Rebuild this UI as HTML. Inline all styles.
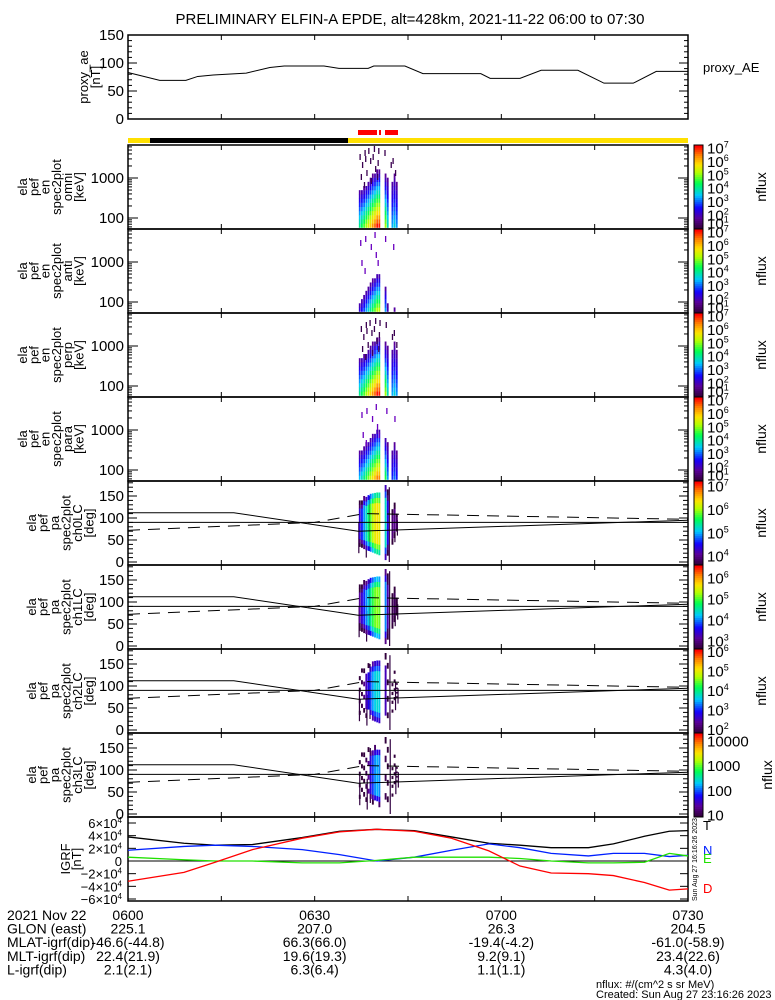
<!DOCTYPE html>
<html><head><meta charset="utf-8"><style>
html,body{margin:0;padding:0;background:#fff}
svg{display:block;font-family:"Liberation Sans",sans-serif}
</style></head><body>
<svg id="c" width="775" height="1000" viewBox="0 0 775 1000" xmlns="http://www.w3.org/2000/svg">
<text x="410" y="24" font-size="15" text-anchor="middle">PRELIMINARY ELFIN-A EPDE, alt=428km, 2021-11-22 06:00 to 07:30</text>
</svg>
<script>
// ---------- data ----------
const aeTimes=[0,5.1,9.3,11.2,13.7,19,22.8,25.1,31.5,33.9,38.6,39.5,44.5,47.4,56.7,58.2,63,66.4,72.3,76.5,81.2,84.9,90];
const aeValues=[83,69,69,76,78.5,82,92,94.6,94.6,90.5,90.5,94.6,94.6,81,81,72.6,72.6,87,87,64,64,85,85];
const colTimes=[37.1,37.45,37.8,38.15,38.5,38.85,39.2,39.55,39.9,40.25,41.25,41.6,42.35,42.7,43.05];
const omniPeak=[4.0,4.3,4.6,5.0,5.4,5.8,6.2,6.5,6.9,6.9,5.0,3.8,3.3,3.6,3.2];
const omniSlope=[2.6,2.8,3.0,3.2,3.4,3.5,3.6,3.7,3.8,3.8,2.6,1.8,1.4,1.5,1.4];
const panelOffset=[0,-1.8,0,-0.6];
const noiseT=[37.2,37.6,38.0,38.3,38.9,39.3,39.7,40.2,42.5,42.9,37.9,39.0,40.0,38.6,41.2,42.2,37.4,38.1,39.5,40.1];
const noiseE=[3.6,3.4,3.7,3.2,3.5,3.6,3.3,3.75,3.5,3.2,2.9,3.0,3.1,3.75,3.7,3.4,3.1,3.55,3.8,3.45];
const paFlux0=[4.3,4.6,4.9,5.2,5.5,5.8,6.1,6.3,6.4,6.3,5.2,4.4,3.9,4.0,3.8];
const paLo=[35,33,30,28,26,24,22,20,18,16,5,15,40,55,70];
const paHi=[140,140,150,148,152,155,156,157,158,158,175,165,120,135,110];
const paChOffset=[0,-1.2,-2.7,-4.2];
const streakT=[37.0,38.2,38.7,41.9,42.8,43.2];
const streakLo=[20,10,25,0,45,60];
const streakHi=[90,80,150,170,110,95];
const ttimes=[0,30,60,90];const tlabels=["0600","0630","0700","0730"];
const igrfX=[0,9,14,20,28,34,40,46,52,58,63,68,74,78,83,87,90];
const igrfT=[3.8,2.8,2.5,2.6,3.7,4.7,5.0,4.8,3.8,2.8,2.5,2.1,2.1,2.7,3.9,4.7,4.8];
const igrfN=[1.7,2.3,2.5,2.3,1.8,1.0,0.0,0.6,1.7,2.7,2.1,1.2,0.8,1.2,1.2,0.7,0.9];
const igrfE=[0.6,0.2,0.0,0.0,-0.3,-0.3,0.1,0.6,0.6,0.6,0.4,0.0,-0.3,-0.3,-0.2,1.2,0.8];
const igrfD=[-3.2,-1.8,-0.2,1.8,3.6,4.6,5.0,4.7,3.6,1.6,-0.8,-1.9,-2.0,-2.3,-3.4,-4.6,-4.4];
const glon=["225.1","207.0","26.3","204.5"];
const mlat=["-46.6(-44.8)","66.3(66.0)","-19.4(-4.2)","-61.0(-58.9)"];
const mlt=["22.4(21.9)","19.6(19.3)","9.2(9.1)","23.4(22.6)"];
const lsh=["2.1(2.1)","6.3(6.4)","1.1(1.1)","4.3(4.0)"];
// ---------- helpers ----------
const S=document.getElementById('c'),NS="http://www.w3.org/2000/svg";
const L=128,R=688;
function X(t){return L+t*(R-L)/90;}
function el(tag,a,p){const e=document.createElementNS(NS,tag);for(const k in a)e.setAttribute(k,a[k]);(p||S).appendChild(e);return e;}
function cm(f){f=Math.max(0,Math.min(1,f));const st=[[0,[50,0,60]],[0.12,[90,0,150]],[0.25,[20,0,255]],[0.4,[0,200,255]],[0.55,[0,255,80]],[0.68,[180,255,0]],[0.78,[255,225,0]],[0.9,[255,120,0]],[1,[255,0,0]]];
for(let i=1;i<st.length;i++)if(f<=st[i][0]){const a=st[i-1],b=st[i],u=(f-a[0])/(b[0]-a[0]);return`rgb(${a[1].map((v,j)=>Math.round(v+(b[1][j]-v)*u)).join(',')})`;}return'rgb(255,0,0)';}
function line(x1,y1,x2,y2,c,w,nm,dash){const e=el('line',{x1,y1,x2,y2,stroke:c||'#000','stroke-width':w||1});if(dash)e.setAttribute('stroke-dasharray',dash);

return e;}
function txt(x,y,s,fs,anchor,nm,col){const e=el('text',{x,y,'font-size':fs||13,'text-anchor':anchor||'start',fill:col||'#000'});e.innerHTML=s;

return e;}
function vtitle(lines,x0,dx,yc,nm){lines.forEach((s,i)=>{const e=el('text',{transform:`translate(${x0+i*dx},${yc}) rotate(-90)`,'font-size':13,'text-anchor':'middle'});e.textContent=s;

});}
function frame(top,bot,nm){const r=el('rect',{x:L,y:top,width:R-L,height:bot-top,fill:'none',stroke:'#000','stroke-width':1.5});


for(let m=15;m<90;m+=15){line(X(m),top,X(m),top+5,'#000',1,'x-tick');line(X(m),bot,X(m),bot-5,'#000',1,'x-tick');}}
function sup(b,p){return `${b}<tspan dy="-6" font-size="9">${p}</tspan>`;}
// ---------- proxy AE ----------
(function(){const top=35,bot=119,yv=v=>bot-v*(bot-top)/150;frame(top,bot,'proxy-ae-panel');
for(let v=0;v<=150;v+=10){const mj=v%50==0;line(L,yv(v),L+(mj?9:4),yv(v),'#000',1,'y-tick');line(R,yv(v),R-(mj?9:4),yv(v),'#000',1,'y-tick');if(mj)txt(124,yv(v)+5,v,15,'end','y-tick-label');}
const p=el('polyline',{points:aeTimes.map((t,i)=>X(t)+','+yv(aeValues[i])).join(' '),fill:'none',stroke:'#000','stroke-width':1});


vtitle(['proxy_ae','[nT]'],88,12,77,'proxy-ae-y-title');txt(703,72,'proxy_AE',13,'start','proxy-ae-legend');})();
// ---------- status bar ----------
[[128,150,'#ffe000'],[150,348,'#000'],[348,688,'#ffe000']].forEach((s,i)=>{const r=el('rect',{x:s[0],y:138,width:s[1]-s[0],height:5,fill:s[2]});

});
[[358,377],[379,381],[385,398]].forEach(s=>{const r=el('rect',{x:s[0],y:130,width:s[1]-s[0],height:5,fill:'#f00'});

});
// ---------- colorbar ----------
function cbar(top,bot,lo,hi,labels,nm){const n=40;for(let i=0;i<n;i++){const r=el('rect',{x:694,y:bot-(i+1)*(bot-top)/n,width:9,height:(bot-top)/n+0.5,fill:cm(i/(n-1))});

}
const b=el('rect',{x:694,y:top,width:9,height:bot-top,fill:'none',stroke:'#000','stroke-width':1});


labels.forEach(l=>{const y=bot-(l[0]-lo)/(hi-lo)*(bot-top);txt(707,y+6,l[1],15,'start','colorbar-label');});
const e=el('text',{transform:`translate(${nm=='ch3'?772:766},${(top+bot)/2}) rotate(-90)`,'font-size':14,'text-anchor':'middle'});e.textContent='nflux';

}
// ---------- spectrograms ----------
const specNames=['omni','anti','perp','para'];
specNames.forEach((nm,pi)=>{const top=145+84*pi,bot=top+84;const yE=le=>bot-11-(le-2)*40;const bw=0.104;
const g=el('g',{});
colTimes.forEach((t,ci)=>{for(let b=0;b<20;b++){const le=1.76+b*bw;const v=omniPeak[ci]+panelOffset[pi]-omniSlope[ci]*(le-1.76);if(v<1.7)continue;
const r=el('rect',{x:X(t),y:yE(le+bw),width:1.8,height:bw*40+0.2,fill:cm((v-1)/6)},g);

}});
noiseT.forEach((t,i)=>{if(pi%2==1&&i%2)return;const r=el('rect',{x:X(t+(pi*0.1)),y:yE(noiseE[i]-pi*0.05),width:1.3,height:6,fill:pi%2==1?'#6a00c0':'#3a0050'},g);

});
frame(top,bot,nm+'-panel');
for(let d=1;d<=3;d++)for(let k=1;k<10;k++){const y=yE(d+Math.log10(k));if(y<top||y>bot)continue;const w=k==1?10:4;line(L,y,L+w,y,'#000',1,'y-tick');line(R,y,R-w,y,'#000',1,'y-tick');}
txt(124,yE(3)+5,'1000',15,'end','y-tick-label');txt(124,yE(2)+5,'100',15,'end','y-tick-label');
vtitle(['ela','pef','en','spec2plot',nm,'[keV]'],27,11.3,(top+bot)/2,nm+'-y-title');
cbar(top,bot,0.9,7.2,[[7,sup(10,7)],[6,sup(10,6)],[5,sup(10,5)],[4,sup(10,4)],[3,sup(10,3)],[2,sup(10,2)],[1.4,sup(10,1)]],'spec'+pi);});
// ---------- pitch angle panels ----------
const solT=[0,17,37,90],solV=[112,112,70,95];const dashT=[0,30,38,90],dashV=[72,90,110,97];
const cbRanges=[[3.6,7.2],[2.6,6.6],[1.8,6.1],[0.9,4.3]];
const cbLabels=[[[7,sup(10,7)],[6,sup(10,6)],[5,sup(10,5)],[4,sup(10,4)]],[[6,sup(10,6)],[5,sup(10,5)],[4,sup(10,4)],[3,sup(10,3)]],[[6,sup(10,6)],[5,sup(10,5)],[4,sup(10,4)],[3,sup(10,3)],[2,sup(10,2)]],[[4,'10000'],[3,'1000'],[2,'100'],[1,'10']]];
for(let ch=0;ch<4;ch++){const top=481+84*ch,bot=top+84;const yP=p=>bot-3-p*0.44;const rg=cbRanges[ch];
streakT.forEach((t,i)=>{const r=el('rect',{x:X(t+ch*0.05),y:yP(streakHi[i]),width:1.2,height:yP(streakLo[i])-yP(streakHi[i]),fill:'#300040'});

});
colTimes.forEach((t,ci)=>{const v=paFlux0[ci]+paChOffset[ch];const nb=12;for(let b=0;b<nb;b++){const p0=paLo[ci]+(paHi[ci]-paLo[ci])*b/nb,p1=paLo[ci]+(paHi[ci]-paLo[ci])*(b+1)/nb;const edge=Math.min(b,nb-1-b);const vv=v-(edge<2?(2-edge)*0.5:0);
const f=(vv-rg[0])/(rg[1]-rg[0]);if(ch>1&&f<0.12&&(b+ci)%3!=0)continue;
const r=el('rect',{x:X(t),y:yP(p1),width:1.9,height:yP(p0)-yP(p1)+0.3,fill:cm(f)});

}});
frame(top,bot,'ch'+ch+'-panel');
line(L,yP(90),R,yP(90),'#000',1,'pa-90-line');
const sp=el('polyline',{points:solT.map((t,i)=>X(t)+','+yP(solV[i])).join(' '),fill:'none',stroke:'#000','stroke-width':1});


const dp=el('polyline',{points:dashT.map((t,i)=>X(t)+','+yP(dashV[i])).join(' '),fill:'none',stroke:'#000','stroke-width':1,'stroke-dasharray':'12,8'});


for(let p=0;p<=180;p+=10){const mj=p%50==0;line(L,yP(p),L+(mj?9:5),yP(p),'#000',1,'y-tick');line(R,yP(p),R-(mj?9:5),yP(p),'#000',1,'y-tick');if(mj)txt(124,yP(p)+5,p,15,'end','y-tick-label');}
vtitle(['ela','pef','pa','spec2plot','ch'+ch+'LC','[deg]'],36,11.5,(top+bot)/2,'ch'+ch+'-y-title');
cbar(top,bot,rg[0],rg[1],cbLabels[ch],'ch'+ch);}
// ---------- IGRF ----------
(function(){const top=817,bot=901,y0=861,yv=v=>y0-v*38/6;frame(top,bot,'igrf-panel');line(L,y0,R,y0,'#000',1,'igrf-zero-line');
[[6,'6×10'],[4,'4×10'],[2,'2×10'],[0,'0'],[-2,'−2×10'],[-4,'−4×10'],[-6,'−6×10']].forEach(l=>{txt(122,yv(l[0])+5,l[0]==0?'0':l[1]+'<tspan dy="-5" font-size="8">4</tspan>',13,'end','y-tick-label');line(L,yv(l[0]),L+8,yv(l[0]),'#000',1,'y-tick');line(R,yv(l[0]),R-8,yv(l[0]),'#000',1,'y-tick');});
[[igrfT,'#000','igrf-t-line'],[igrfN,'#0020ff','igrf-n-line'],[igrfE,'#20e000','igrf-e-line'],[igrfD,'#ff0000','igrf-d-line']].forEach(s=>{const p=el('polyline',{points:igrfX.map((t,i)=>X(t)+','+yv(s[0][i])).join(' '),fill:'none',stroke:s[1],'stroke-width':1.3});

});
txt(703,830,'T',13,'start','legend-t','#000');txt(703,855,'N',13,'start','legend-n','#0020ff');txt(703,863,'E',13,'start','legend-e','#20e000');txt(703,893,'D',13,'start','legend-d','#ff0000');
vtitle(['IGRF','[nT]'],70,11,859,'igrf-y-title');
const e=el('text',{transform:'translate(697,901) rotate(-90)','font-size':7});e.textContent='Sun Aug 27 16:16:26 2023';

})();
// ---------- footer ----------
const rows=[['2021 Nov 22',tlabels],['GLON (east)',glon],['MLAT-igrf(dip)',mlat],['MLT-igrf(dip)',mlt],['L-igrf(dip)',lsh]];
rows.forEach((r,ri)=>{const y=920+ri*13.6;txt(7,y,r[0],14,'start','footer-row-label');r[1].forEach((v,i)=>txt(X(ttimes[i]),y,v,14,'middle','footer-value'));});
txt(596,988,'nflux: #/(cm^2 s sr MeV)',11,'start','units-note');
txt(596,998,'Created: Sun Aug 27 23:16:26 2023',11,'start','created-note');
</script>
</body></html>
